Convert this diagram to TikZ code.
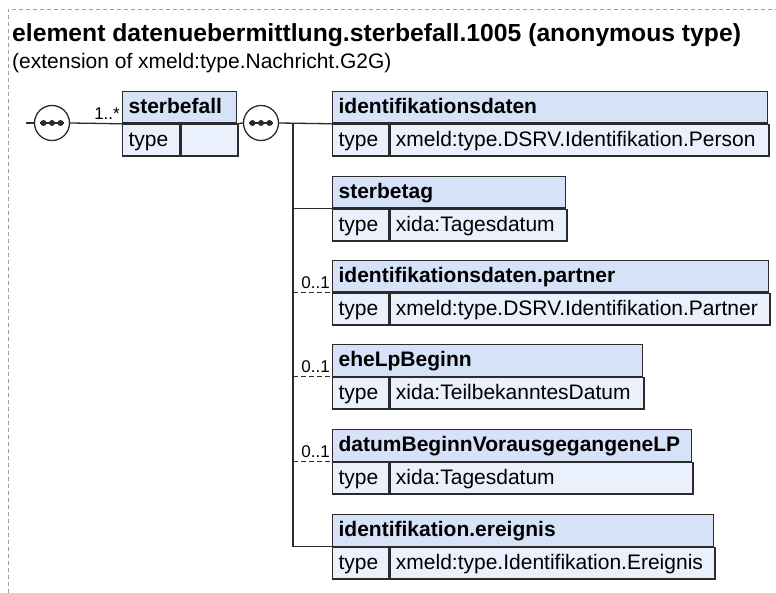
\documentclass[tikz,border=0pt]{standalone}
\usepackage{fontspec}
\setmainfont{Liberation Sans}
\definecolor{hdrc}{HTML}{D5E2F7}
\definecolor{typc}{HTML}{EAF0FC}
\definecolor{linec}{HTML}{2B2B2B}
\definecolor{framec}{HTML}{A0A0A0}
\tikzset{
  boxbase/.style={draw=linec, line width=1.3pt, anchor=north west, minimum height=31.5pt,
    inner xsep=6pt, inner ysep=0pt, text height=16pt, text depth=4pt, align=left},
  hdr/.style={boxbase, fill=hdrc, font=\bfseries\fontsize{21}{21}\selectfont},
  typ/.style={boxbase, fill=typc, font=\fontsize{21}{21}\selectfont},
  conn/.style={draw=linec, line width=1.3pt},
  optconn/.style={conn, dashed, dash pattern=on 5pt off 3pt},
  seqc/.style={circle, draw=linec, fill=white, line width=1.3pt, minimum size=35pt, inner sep=0pt},
  mult/.style={font=\fontsize{17}{17}\selectfont, inner sep=0pt, anchor=base east},
}
\newcommand\xsdel[6]{%
  \pgfmathsetmacro\xwa{#4-12}%
  \pgfmathsetmacro\xwb{#4-56}%
  \pgfmathsetmacro\xwc{#4-68}%
  \node[hdr, minimum width=#4pt, text width=\xwa pt] (#1) at (#2,#3) {#5};
  \node[typ, minimum width=56pt, text width=44pt, inner xsep=5pt] (#1t) at (#1.south west) {type};
  \node[typ, minimum width=\xwb pt, text width=\xwc pt] (#1v) at (#1t.north east) {#6};
}
\newcommand\seqdots[1]{%
  \draw[conn] ([xshift=-12pt]#1.center) -- ([xshift=12pt]#1.center);
  \fill[linec] ([xshift=-8.5pt]#1.center) circle (3pt);
  \fill[linec] (#1.center) circle (3pt);
  \fill[linec] ([xshift=8.5pt]#1.center) circle (3pt);
}
\begin{document}
\begin{tikzpicture}[x=1pt,y=-1pt]
\useasboundingbox (0,0) rectangle (776,593);
\draw[framec, dashed, dash pattern=on 4pt off 3pt, line width=0.8pt] (8,593) -- (8,9) -- (776,9);
\node[anchor=base west, inner sep=0pt, font=\bfseries\fontsize{24.7}{25}\selectfont] (title) at (12,42) {element datenuebermittlung.sterbefall.1005 (anonymous type)};
\node[anchor=base west, inner sep=0pt, font=\fontsize{21}{21}\selectfont] (sub) at (12,69) {(extension of xmeld:type.Nachricht.G2G)};

% root element
\node[hdr, minimum width=114pt, text width=102pt] (root) at (122,91) {sterbefall};
\node[typ, minimum width=57pt, text width=45pt, inner xsep=5pt] (roott) at (root.south west) {type};
\node[typ, minimum width=57pt, text width=45pt] (rootv) at (roott.north east) {};

\node[seqc] (s1) at (52,123) {};
\node[seqc] (s2) at (261,123) {};
\seqdots{s1}
\seqdots{s2}
\coordinate (lstart) at (26,123);
\coordinate (j) at (293,123);

\xsdel{e1}{332}{91}{435}{identifikationsdaten}{xmeld:type.DSRV.Identifikation.Person}
\xsdel{e2}{332}{176}{233}{sterbetag}{xida:Tagesdatum}
\xsdel{e3}{332}{260}{436}{identifikationsdaten.partner}{xmeld:type.DSRV.Identifikation.Partner}
\xsdel{e4}{332}{344}{310}{eheLpBeginn}{xida:TeilbekanntesDatum}
\xsdel{e5}{332}{429}{359}{datumBeginnVorausgegangeneLP}{xida:Tagesdatum}
\xsdel{e6}{332}{514}{381}{identifikation.ereignis}{xmeld:type.Identifikation.Ereignis}

\draw[conn] (lstart) -- (s1.west);
\draw[conn] (s1.east) -- (root.south west);
\draw[conn] (root.south east) -- (s2.west);
\draw[conn] (s2.east) -- (e1.south west);
\draw[conn] (j) -- (j |- e6.south west);
\draw[conn] (j |- e2.south west) -- (e2.south west);
\draw[optconn] (j |- e3.south west) -- (e3.south west);
\draw[optconn] (j |- e4.south west) -- (e4.south west);
\draw[optconn] (j |- e5.south west) -- (e5.south west);
\draw[conn] (j |- e6.south west) -- (e6.south west);

\node[mult] (m0) at ([xshift=-2pt,yshift=4pt]root.south west) {1..*};
\node[mult] (m3) at ([xshift=-2pt,yshift=4pt]e3.south west) {0..1};
\node[mult] (m4) at ([xshift=-2pt,yshift=4pt]e4.south west) {0..1};
\node[mult] (m5) at ([xshift=-2pt,yshift=4pt]e5.south west) {0..1};
\end{tikzpicture}
\end{document}
